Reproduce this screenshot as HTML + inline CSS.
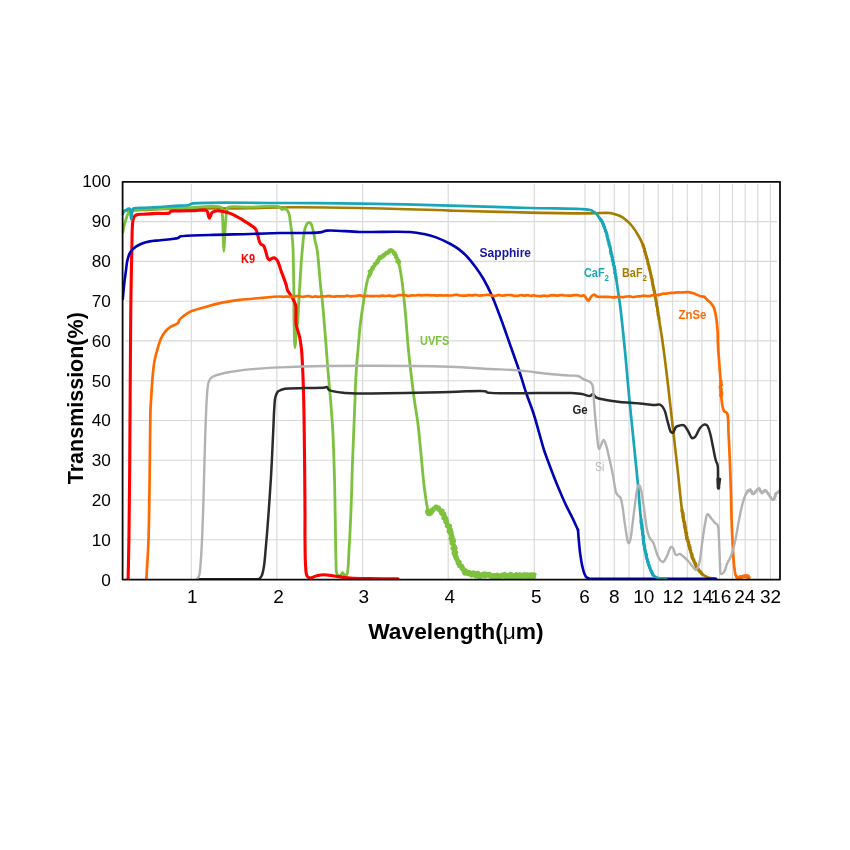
<!DOCTYPE html>
<html lang="en">
<head>
<meta charset="utf-8">
<title>Transmission of optical materials</title>
<style>
html,body{margin:0;padding:0;background:#ffffff;}
body{width:850px;height:850px;overflow:hidden;}
svg{display:block;}
</style>
</head>
<body>
<svg width="850" height="850" viewBox="0 0 850 850">
<rect width="850" height="850" fill="#ffffff"/>
<g stroke="#d8d8d8" stroke-width="1.1" fill="none">
<path d="M191.3 183.8 V579.6 M276.9 183.8 V579.6 M362.6 183.8 V579.6 M448.2 183.8 V579.6 M534.3 183.8 V579.6 M585 183.8 V579.6 M599.7 183.8 V579.6 M614.3 183.8 V579.6 M629 183.8 V579.6 M643.7 183.8 V579.6 M658.2 183.8 V579.6 M672.7 183.8 V579.6 M687.3 183.8 V579.6 M701.9 183.8 V579.6 M719.5 183.8 V579.6 M732.5 183.8 V579.6 M745.2 183.8 V579.6 M757.8 183.8 V579.6 M770.4 183.8 V579.6"/>
<path d="M125.6 221.6 H777 M125.6 261.4 H777 M125.6 301.2 H777 M125.6 340.9 H777 M125.6 380.7 H777 M125.6 420.5 H777 M125.6 460.3 H777 M125.6 500 H777 M125.6 539.8 H777"/>
</g>
<clipPath id="plotclip"><rect x="121.7" y="181.8" width="659.2" height="398.2"/></clipPath>
<g fill="none" stroke-linejoin="round" stroke-linecap="round" clip-path="url(#plotclip)">
<path stroke="#a67c00" stroke-width="2.6" d="M122.8 212C123.2 211.6 123.4 211.1 124 210.8C125.2 210.3 127.4 210.5 130 210.4C134.7 210.1 143 209.9 150 209.6C157.9 209.3 166 209 175 208.8C185.7 208.6 197.9 208.6 210 208.5C222.9 208.4 236.7 208.4 250 208.2C263.3 208 274.8 207.4 290 207.3C310.1 207.2 335.2 207.5 360 208C388.1 208.5 420.9 209.8 450 210.6C477.5 211.3 505.2 212.1 530 212.6C551.4 213 575.4 213.4 590 213.4C598.5 213.4 605.3 212.4 610 213C612.6 213.3 614.2 214 616 214.6C617.5 215.1 618.6 215.3 620 216C621.9 216.9 624.1 218.4 626 220C628.1 221.7 630.1 223.7 632 226C634.1 228.6 636.2 231.9 638 235C639.9 238.2 641.6 241.3 643 245C644.6 249.2 645.7 254.2 647 259C648.4 264.1 649.7 269.4 651 275C652.4 281.3 653.7 288 655 295C656.4 302.6 657.7 310.8 659 319C660.4 327.5 661.7 335.4 663 345C664.7 356.9 666.4 371.3 668 385C669.7 399.3 671.3 414.3 673 429C674.7 443.7 676.4 459 678 473C679.4 485.9 680.4 498.6 682 510C683.4 520 685.1 529.7 687 538C688.5 544.7 690.2 550.7 692 556C693.5 560.5 695.1 564.8 697 568C698.5 570.5 700.1 572.4 702 574C703.8 575.5 705.8 576.6 708 577.4C710.4 578.3 713.3 578.3 716 578.8"/>
<path stroke="#a67c00" stroke-width="2.8" d="M643.2 244.9 L642.9 246.1 L643.9 246.9 L643.7 248 L644.5 248.9 L644.6 249.9 L644.3 251.1 L645.2 251.9 L645.2 253 L645.6 254 L645.9 255 L646.1 256 L646.7 256.9 L646.5 258.1 L647.3 258.9 L647.5 259.9 L647.9 260.9 L647.9 262 L648.1 263 L647.9 264.1 L648.6 265 L649 265.9 L649.2 267 L648.9 268.1 L649.8 268.9 L649.7 270 L650.1 271 L650.1 272 L650.6 273 L650.6 274 L651 275 L651.1 276 L651.1 277.1 L651.5 278 L652.1 278.9 L652.3 279.9 L651.9 281.1 L652.4 282 L652.8 283 L652.5 284.1 L652.9 285 L653 286 L653.1 287.1 L653.8 288 L653.9 289 L653.7 290.1 L654.5 290.9 L654.2 292 L654.9 292.9 L654.7 294 L654.8 295 L654.8 296.1 L655.1 297 L655.5 298 L655.9 299 L656.1 300 L656 301 L656.2 302 L656.7 302.9 L656.2 304.1 L656.7 305 L656.7 306 L657.2 307 L657.4 308 L657.7 308.9 L657.6 310 L657.9 311 L657.9 312 L658.1 313 L657.9 314 L658 315.1 L658.8 316 L658.7 317 L659.1 318 L659 319"/>
<path stroke="#a67c00" stroke-width="3.2" d="M682 510 L682 511 L682.2 512 L682.9 512.9 L683.2 513.9 L683 515 L683.3 516 L682.9 517.1 L683.2 518 L683.5 519 L683.7 520 L683.8 521 L684.5 521.9 L684.4 523 L684.8 523.9 L684.3 525.1 L685.3 525.9 L684.7 527.1 L685.6 527.9 L685.2 529 L685.7 530 L685.8 531 L685.6 532.1 L686.6 532.9 L686.7 533.9 L686.1 535.1 L686.6 536 L687.2 536.9 L686.5 538.1 L686.8 539.1 L687.9 539.9 L687.9 541 L688.5 541.9 L688.6 542.9 L688.5 544 L689.3 544.9 L689 546.1 L689.9 546.9 L690.1 547.9 L689.8 549.1 L690.4 550 L690.7 551 L690.8 552 L691.2 553 L691.6 554 L692.2 554.9 L691.8 556.1 L692 557.1 L692.3 558 L693 558.8 L693.7 559.6 L694 560.6 L694.1 561.6 L694.5 562.5 L695.4 563.2 L695.7 564.2 L696 565.2 L696.2 566.2 L696.3 567.2 L697 568 L698.1 568.6 L698.2 569.9 L699.2 570.5 L699.8 571.4 L700.8 572.1 L701.3 573.1 L702 574"/>
<path stroke="#7dc13f" stroke-width="2.8" d="M122.8 232.3C123.3 230 123.6 227.6 124.2 225.3C124.8 222.9 125.6 220.4 126.3 218.2C127 216.2 127.6 214 128.4 212.6C129 211.5 129.5 210.6 130.5 210.1C131.6 209.5 132.9 209.8 135 209.6C140 209.2 151.3 208.9 160 208.6C169.5 208.3 179.9 207.9 190 207.7C200.3 207.5 217.5 204.3 221.3 207.5C223 209 222 211.1 222.3 214C222.9 219.8 223 233.1 223.3 240C223.5 244.6 223.7 251.4 223.9 251.4C224.1 251.4 224.4 244.2 224.6 240C224.9 234.7 225.2 227.3 225.6 222C225.9 217.9 226.2 213.6 226.8 211C227.2 209.4 227 208.3 228.2 207.4C231.1 205.4 242.2 207.3 250 207.2C259 207.1 275 205.1 279.3 206.9C280.8 207.5 280.9 209.2 281.8 209.4C282.7 209.6 283.7 208.4 284.6 208.5C285.6 208.6 286.8 209.6 287.5 210.5C288.3 211.6 288.8 213.1 289.2 214.7C289.8 216.7 289.9 219.4 290.3 221.8C290.6 224.1 291 226.2 291.3 228.8C291.7 232 292.1 235.9 292.4 239.4C292.7 242.9 293 246.5 293.1 250C293.2 253.4 293.2 255.6 293.3 260C293.5 268.2 293.8 284.6 293.9 295.3C294 304.3 293.8 311.5 294 320C294.2 329 294.5 347.8 295 347.8C295.4 347.8 295.9 335.1 296.5 330C296.9 326.2 297.6 323.7 297.9 320C298.3 315.5 298.3 310.2 298.6 305C298.9 299.5 299.3 293.7 299.6 288C300 282.3 300.4 276.1 300.7 271C301 266.9 301.1 263.6 301.4 260C301.7 256.6 302 253.6 302.3 250C302.7 245.7 303.1 239.9 303.7 235.9C304.1 232.9 304.4 230.3 305.1 228.1C305.7 226.3 306.4 224.4 307.2 223.5C307.7 222.9 308.4 222.5 309 222.5C309.6 222.5 310.3 222.9 310.8 223.5C311.6 224.4 312 226.3 312.5 228.1C313.2 230.3 313.9 233.6 314.3 235.9C314.6 237.7 314.6 239 315 240.8C315.5 243.2 316.5 246 317 249C317.6 252.4 317.8 255.5 318.3 260C319 267.2 320 280.9 320.8 288.2C321.3 292.8 321.7 295.2 322.2 299.5C322.8 305.3 323.4 313.1 324 320C324.6 327.2 325.2 334.1 325.8 341.8C326.5 350.6 327.1 360.1 327.9 370C328.8 381 330.1 393.8 331 405C331.8 415.4 332.5 424.3 333 435C333.6 447.4 334 461.7 334.4 475C334.8 488.3 334.9 501.3 335.2 515C335.5 529.6 335.5 549.3 336 560C336.3 566 335.6 571.6 337 574C337.7 575.2 339.1 576.2 340 576C341 575.8 341.8 572.6 342.6 572.6C343.4 572.6 344.2 575.9 345 576C345.7 576.1 346.4 575.2 347 574C348.6 570.5 348.4 559 349 550C349.8 538.4 350.4 523.7 351 510C351.6 495.4 351.9 480.4 352.4 465C353 448.8 353.8 430.7 354.4 415C355 400.9 355.3 387.4 356 375C356.6 364.3 357.7 353.7 358.4 345C359 338.2 359.3 333.3 360 327C360.8 320 361.9 312 363 305C364 298.7 365 292.2 366 287C366.8 283 367.5 279.6 368.4 276.6C369.2 274.1 369.9 271.8 371 270C371.9 268.6 372.9 268 374 266.5C375.7 264.3 377.9 260.2 380 258C381.6 256.3 383.3 255.3 385 254C386.8 252.6 388.9 249.8 390.7 250C392.4 250.2 394.2 253 395.5 255C396.9 257.2 397.8 259.8 398.7 263C400 267.4 400.9 273.7 401.7 279C402.5 284.3 403 289.4 403.6 295C404.3 301.3 404.9 307.7 405.6 315C406.4 324 407.1 335 408 345C408.9 355 410.1 365.6 411.2 375C412.2 383.5 413.1 390.8 414.2 399C415.4 407.5 417 416 418.1 425C419.3 434.6 420.1 445 421.1 455C422.1 465 423 476.3 424 485C424.8 491.8 425.7 498.2 426.5 503C427 506.2 427.5 508.9 428 511C428.3 512.4 428.5 514.4 429 514.5C429.4 514.6 429.9 513.3 430.5 512.5C431.2 511.5 431.9 509.9 433 509C434.1 508.1 435.8 506.8 437 507C438.3 507.2 439.4 508.7 440.5 510C441.8 511.6 442.8 513.8 444 516C445.3 518.5 446.9 521.1 448 524C449.3 527.3 450 531.2 451 535C452 539.1 453 544.1 454 548C454.8 551.3 455.6 554.2 456.5 557C457.3 559.5 458 562 459 564C459.9 565.7 460.8 567.2 462 568.5C463.2 569.8 464.7 570.8 466 572"/>
<path stroke="#7dc13f" stroke-width="3.5" d="M368.7 276.7 L369.2 276 L369.7 275.2 L370.3 274.5 L370.2 273.5 L370.9 272.8 L369.4 271.3 L370.6 270.8 L371.7 270.6 L371.8 269.5 L372.9 269.2 L372.2 267.3 L373.3 267.2 L373.5 266.2 L374.5 265.9 L375.1 265.3 L374.5 263.9 L375.3 263.5 L375.9 263 L377.5 263.1 L377.7 262.3 L377.1 260.8 L378.7 261 L378 259.5 L379.3 259.5 L378.9 258.2 L379.3 257.1 L381.1 258.1 L380.9 256.5 L381.5 256 L383.2 256.8 L383.6 256.1 L383.5 254.6 L385 255.3 L385 254.1 L385.9 253.8 L386.1 252.5 L387.7 253.3 L388.1 252.3 L389.2 252.3 L389.8 251.7 L389.7 250.1 L390.9 249.8 L391.8 250.1 L392.5 250.7 L393.2 251.2 L393.4 252.2 L393.5 253.3 L395.1 253 L394.6 254.6 L395.8 254.9 L396.2 255.6 L395.5 256.9 L396.5 257.4 L397.2 258 L397.1 259 L397 260 L398.6 260.2 L397.1 261.8 L399.4 261.8 L398.7 263"/>
<path stroke="#7dc13f" stroke-width="4.4" d="M427.2 511.2 L427.3 512.1 L428.5 512.7 L429.4 513.4 L427.8 513.6 L429.9 514.1 L429.9 513.1 L431.1 513 L430.7 511.6 L432.2 511.6 L431.4 510 L433.2 510.2 L433.3 509.6 L433.7 508.4 L434.7 508.3 L435.6 508.3 L435.8 506.6 L436.9 507.1 L437.1 508.3 L438.9 507.7 L438.5 509.5 L439.4 509.8 L439.6 510.5 L441.4 510.5 L442.4 510.9 L441 512.7 L441.5 513.5 L442.8 513.7 L444.2 513.9 L444.3 514.8 L443.6 516.2 L444.9 516.4 L443.5 518.1 L444.9 518.3 L446.3 518.5 L445.4 519.8 L446.6 520.2 L445.4 521.7 L445.8 522.4 L447.2 522.6 L447.2 523.5 L447.4 524.2 L447.3 525 L447 525.9 L450 526 L449.3 527 L448.8 528 L449.9 528.6 L449.2 529.6 L450.9 530 L448.8 531.4 L450.1 531.9 L451.5 532.3 L450.1 533.6 L451.3 534.1 L451.9 534.8 L451.2 535.8 L452.4 536.4 L452.4 537.2 L450.7 538.5 L451.4 539.2 L453.5 539.5 L451.5 540.9 L453.9 541.2 L453.2 542.2 L451.7 543.4 L452.7 544 L453.8 544.6 L453.8 545.5 L453.9 546.3 L454.9 546.9 L452.6 548.4 L455.5 548.5 L454.7 549.6 L454 550.7 L455.2 551.2 L453.7 552.5 L456.1 552.7 L454.2 554.1 L454.7 554.9 L455.6 555.5 L455.1 556.5 L456.6 556.9 L455.8 558.1 L456.2 558.9 L457.3 559.4 L457.7 560.1 L457.3 561.1 L458.4 561.6 L459.6 562 L458 563.5 L459.6 563.6 L459.5 564.7 L459.3 566 L461.3 565.7 L462.2 566.2 L462.4 567.1 L461.8 568.7 L462.9 568.8 L463.8 569.1 L464.1 570.1 L463.8 571.8 L465.8 570.9 L466 572"/>
<path stroke="#7dc13f" stroke-width="5.6" stroke-linecap="butt" d="M464.1 570.9 L464.7 571.6 L465.1 572.8 L466.4 572.2 L467.2 572.8 L467.9 573.4 L469.2 572.6 L470 573.7 L470.9 574.2 L471.8 574.9 L473.2 573.3 L474.1 574.1 L475.1 573.6 L475.9 575.6 L476.9 575.4 L478.1 573.8 L478.9 576.3 L479.9 576.4 L481 575.7 L482 575.7 L483 574.6 L484.1 574.2 L485 575.6 L486.1 574.5 L487 574.8 L488 575 L489.1 574.5 L490 575.7 L490.9 575.7 L491.8 576.7 L492.7 575.9 L493.6 576.2 L494.5 575.8 L495.4 576.3 L496.3 575.7 L497.2 575.3 L498.1 577.2 L499 577.2 L499.9 576.8 L500.8 576.4 L501.7 575.4 L502.6 575.2 L503.5 575.4 L504.4 574.8 L505.3 576.6 L506.2 575.7 L507.1 576.9 L508 575.7 L508.9 577.2 L509.8 576.9 L510.8 574.7 L511.7 575.2 L512.5 577.1 L513.5 575.9 L514.3 577.3 L515.3 575.8 L516.2 574.9 L517.1 576.4 L518 576.8 L518.9 575.5 L519.8 575 L520.7 575.6 L521.6 577.3 L522.5 576.8 L523.4 575.1 L524.3 575.4 L525.2 575.1 L526.1 575 L527 576.9 L527.9 575.3 L528.8 576.3 L529.7 576 L530.6 575.3 L531.5 576.8 L532.4 575.2 L533.3 576.6 L534.2 575.2 L535.1 576 L536 576.2"/>
<path stroke="#fe0000" stroke-width="3.1" d="M128.1 579.4C128.4 566.3 128.7 551.6 128.9 540C129 530.7 129.1 524 129.2 515C129.3 504.3 129.5 495.5 129.6 480C129.9 449.6 130.2 377.9 130.5 345C130.6 326 130.7 316.1 130.9 300C131.2 281.4 131.7 252.4 132 240C132.1 234.5 132.1 231.4 132.3 228C132.4 225.5 132.5 223.5 132.8 221.5C133.1 219.8 133.3 218.1 134 217C134.5 216.1 135.2 215.5 136.2 215C137.8 214.3 140.3 214.4 143 214.2C146.8 213.9 152.5 213.6 157 213.4C161.2 213.2 167.3 214 169.3 213C170.2 212.6 170 211.7 170.8 211.3C172.5 210.5 176.6 211.1 180 211C184.4 210.9 190.3 210.7 195 210.6C199.1 210.5 204.7 209.5 206.5 210.5C207.3 211 207.4 211.7 207.7 212.5C208.1 213.6 208.2 215.5 208.6 216.5C208.9 217.2 209.2 218.2 209.5 218.2C209.8 218.2 210.1 216.8 210.5 216C211 215 211.3 213.4 212 212.6C212.6 211.9 213.6 211.6 214.5 211.3C215.5 211 216.5 210.8 217.6 210.8C218.9 210.8 220.5 211 222 211.2C223.6 211.4 225.2 211.7 226.8 212.2C228.5 212.7 230.3 213.4 232 214.2C233.8 215 235.6 215.9 237.3 216.8C239.1 217.7 240.8 218.8 242.5 219.8C244.3 220.9 246.4 222.2 247.9 223.2C248.9 223.9 249.6 224.4 250.5 225C251.6 225.8 253.1 226.5 254.1 227.5C255.1 228.4 255.9 229.4 256.5 230.6C257.2 232 257.4 233.9 257.9 235.6C258.4 237.4 258.7 239.7 259.3 241.2C259.7 242.4 260.1 243.3 260.8 244.1C261.5 244.9 262.9 245 263.6 245.8C264.3 246.6 264.6 247.8 265 249C265.5 250.4 265.9 252.3 266.4 253.9C266.9 255.4 267.1 257.2 267.8 258.2C268.3 259 269 259.8 269.6 259.9C270.3 260 270.9 258.8 271.7 258.5C272.5 258.1 273.4 257.7 274.2 257.8C275 258 275.9 258.8 276.6 259.6C277.5 260.6 278.1 262.2 278.8 263.8C279.6 265.7 280.1 268 280.9 270.2C281.7 272.7 282.8 275.4 283.7 277.9C284.6 280.3 285.5 282.8 286.2 285C286.8 286.9 286.8 288.6 287.6 290.3C288.4 292.2 290.1 294.1 291.2 296C292.3 297.9 293.5 299.8 294.3 301.6C295 303.1 295.5 304.2 295.8 305.9C296.2 308.3 295.9 312 296 315C296 318 295.6 320.8 296.1 324C296.6 327.9 298.7 332.6 299.6 336.8C300.5 340.8 300.9 344.5 301.4 348.8C301.9 353.8 302.2 358.8 302.5 365C302.9 373.5 303.3 383.7 303.6 395C304 409.5 304.2 426.9 304.4 445C304.7 466.4 304.9 497.5 305 515C305 525.4 304.9 531.6 305 540C305.1 548.6 305.1 559.4 305.6 566C305.9 570.1 305.8 574.1 307 576C307.7 577.2 308.8 577.8 310 578C311.6 578.2 313.8 576.5 316 576C318.5 575.4 321.2 574.8 324 574.8C327.1 574.8 330.3 575.5 334 576C338.7 576.6 344.4 577.6 350 578C356.3 578.5 362.8 578.5 370 578.6C378.5 578.8 388.7 578.7 398 578.8"/>
<path stroke="#0000b4" stroke-width="2.6" d="M122.8 299C123.3 293.4 123.8 287.2 124.4 282.3C124.8 278.4 125.3 275.3 125.8 271.8C126.3 268.3 126.5 264.4 127.2 261.2C127.8 258.6 128.4 256.1 129.3 254.1C130.1 252.4 131 251.2 132.1 249.9C133.3 248.6 134.7 247.5 136.3 246.4C138.1 245.2 140.5 244 142.7 243.2C145 242.4 147.2 241.9 149.8 241.4C152.9 240.8 156.3 240.7 160.3 240.2C165.4 239.6 175.1 239.1 178 238C179.1 237.6 178.8 237 180 236.6C184 235.2 199.3 235.4 210 235C222.4 234.5 237.6 234.4 250 234C260.7 233.7 269.3 233.3 280 233C292.4 232.7 312.2 233.5 320 232.4C323.3 232 323.8 230.9 327 230.6C333.9 229.9 347.9 231.7 360 232C374.9 232.3 398.5 231.2 410 232C416.1 232.4 419.5 233.1 424 234C428.2 234.9 431.9 235.9 436 237.4C440.7 239.1 446.4 241.8 450.5 244C453.8 245.8 456.3 247.3 459 249.4C461.9 251.6 464.7 254.2 467.4 257C470.2 260 472.9 263.5 475.5 267C478.3 270.8 480.9 274.6 483.5 279C486.3 283.9 489 289.3 491.6 295C494.4 301.2 497.1 308.7 499.5 315C501.6 320.6 503.5 325.8 505.3 331C507 335.8 508.3 339.7 510.2 345C512.6 351.9 515.9 361 518.6 369C521.3 377 523.6 385.2 526.2 393C528.7 400.5 531.4 406.8 534 415C537.3 425.3 541.4 441.9 544 450C545.4 454.4 546.2 456.2 547.6 460C549.4 464.9 551.8 471.4 554 476.9C556.1 482.2 558.2 487.4 560.4 492.5C562.5 497.3 564.6 502.2 566.7 506.6C568.6 510.6 570.5 514.1 572.4 517.9C574.3 521.8 576.1 525.9 578 529.9"/>
<path stroke="#0000b4" stroke-width="2.6" d="M578 529.9C578.2 533 578.4 535.7 578.7 539.1C579.1 543.3 579.5 548.6 580.1 553.2C580.7 557.6 581.4 562.2 582.2 565.9C582.9 568.8 583.5 571.7 584.4 573.7C585 575.1 585.6 576.4 586.5 577.2C587.3 577.9 588.2 578.2 589.3 578.5C590.6 578.8 592.3 578.7 594 578.8C595.9 578.9 597.1 578.8 600 578.8C607.4 578.8 626.7 578.9 640 578.9C653.3 578.9 667 578.9 680 578.9C692.3 578.9 704 578.9 716 578.9"/>
<path stroke="#17a7b8" stroke-width="2.7" d="M122.8 214C123.1 213.3 123.3 212.6 123.8 212C124.3 211.4 124.9 211 125.6 210.5C126.3 209.9 127.2 209.1 128 208.8C128.6 208.6 129.2 208.3 129.6 208.6C130.2 209 130.2 210.6 130.4 212C130.7 214 130.9 219.3 131.2 219.3C131.5 219.3 131.8 214 132.2 212C132.5 210.6 132.6 209.1 133.3 208.5C134 207.9 135 208.1 136.2 208C138 207.8 140.7 207.9 143 207.8C145.3 207.7 147.5 207.6 150 207.5C153 207.4 156.3 207.2 160 207C164.5 206.7 170.1 206.2 175 205.9C179.7 205.6 186.1 205.7 189 205C190.4 204.6 190.2 204 192 203.6C201.1 201.6 251.4 203 280 203C307.3 203 332.5 203.2 360 203.6C389.1 204 420.9 204.8 450 205.6C477.5 206.3 506.5 207.4 530 208C548.6 208.5 570.5 208.5 580 209C583.8 209.2 585.8 209.2 588 209.6C589.6 209.9 590.7 210 592 210.6C593.4 211.3 594.8 212.3 596 213.5C597.3 214.8 598.4 216.5 599.5 218C600.5 219.5 601.5 220.7 602.4 222.4C603.4 224.3 604.2 226.7 605 229C605.8 231.4 606.5 233.6 607.3 236.5C608.3 240.3 609.5 245.4 610.5 250C611.6 254.8 612.6 259.8 613.6 264.7C614.5 269.5 615.4 274.3 616.2 279C617 283.7 617.6 288.4 618.3 293C619 297.4 619.5 300.5 620.2 306C621.4 315.5 623 331.2 624.4 345C626 360.6 627.4 378.3 629 395C630.6 411.7 632.4 429.3 634 445C635.4 459.1 636.8 472.1 638 485C639.1 497.1 639.8 508.8 641 520C642.1 530.4 643.4 541.6 645 550C646.2 556.2 647.4 561.5 649 566C650.2 569.5 651.2 573 653 575C654.4 576.6 656.1 577.4 658 578C660.3 578.8 663.3 578.5 666 578.8"/>
<path stroke="#17a7b8" stroke-width="3.0" d="M599.5 218 L600.2 218.8 L601 219.6 L600.9 220.8 L602.2 221.2 L602.4 222.4 L602.4 223.5 L603.5 224.1 L603.5 225.2 L603.8 226.2 L604.7 226.9 L604.7 228 L604.8 229.1 L605.4 230.1 L605.4 231.2 L606.3 232.1 L606.6 233.2 L607 234.2 L607 235.4 L606.9 236.6 L607.5 237.6 L607.5 238.6 L608.2 239.6 L608 240.7 L608.9 241.6 L609 242.7 L608.9 243.8 L609 244.9 L609.6 245.8 L610.2 246.8 L610.2 247.9 L610.5 248.9 L610.7 250 L610.4 251 L611.2 251.9 L610.7 253 L611 254 L612 254.8 L611.9 255.9 L612 256.9 L612.6 257.7 L612.4 258.8 L612.2 259.9 L613.2 260.7 L612.9 261.8 L613.6 262.7 L613.3 263.7 L613.2 264.8 L614.1 265.7 L614.5 266.7 L614.6 267.7 L614.3 268.8 L615 269.7 L615.1 270.8 L614.9 271.8 L614.7 272.9 L615.4 273.9 L615.6 274.9 L615.5 276 L616.2 276.9 L615.9 278 L616.2 279"/>
<path stroke="#17a7b8" stroke-width="3.1" d="M641.2 520 L641 521 L641.1 522 L641.1 523 L641.8 524 L641.9 525 L642.1 526 L642.2 527 L641.9 528 L642.5 529 L642.3 530 L642.7 531 L642.8 532 L642.8 533 L642.6 534 L642.9 535 L643.6 535.9 L643.5 537 L643.7 538 L643.2 539 L643.4 540 L643.5 541 L643.6 542 L643.8 543 L643.8 544.1 L644.1 545 L644.7 546 L644.3 547 L644.7 548 L644.6 549 L644.9 550 L645.3 551 L645.6 552 L645.8 553 L646.2 554 L646.6 554.9 L646.2 556.1 L646.5 557.1 L646.6 558.1 L647.1 559 L647.5 560 L647.5 561.1 L648.3 561.9 L648.1 563 L648.5 564 L649 564.9 L649.2 565.9 L649.4 567 L650.1 567.9 L650.4 569 L650.7 570 L651.3 571 L652 571.9 L652.1 573 L652.8 573.9 L653 575"/>
<path stroke="#2b2b2b" stroke-width="2.5" d="M198 579.2C203.7 579.2 209.1 579.2 215 579.2C221.4 579.2 228.8 579.2 235 579.2C240.4 579.2 246.1 579.2 250 579.2C252.5 579.2 254.3 579.3 256 579.2C257.2 579.1 258.1 579.3 259 578.8C260 578.3 260.9 577.3 261.6 576C262.8 573.8 263.4 569.7 264 566C264.8 561.3 265 556.3 265.6 550C266.4 541.2 267.4 529.1 268.2 518C269.1 505.9 270.2 490.3 270.8 480C271.2 472.9 271.4 469.1 271.8 462C272.3 451.9 273 435 273.5 425C273.8 418.2 273.9 413 274.3 408C274.6 403.9 274.6 400 275.4 397C276 394.8 277 392.4 278 391.4C278.6 390.8 279.2 390.7 280 390.4C281.1 389.9 281.9 389.4 284 389C290.5 387.8 320.1 388.4 325 387.6C326.1 387.4 326.4 386.8 327 387C327.8 387.3 327.7 389.2 329 390C331.8 391.8 340.6 392.4 346 393C350.9 393.5 353.3 393.4 360 393.4C377 393.5 426.8 392.4 450 392C464.7 391.8 482.6 390 486 391.4C486.7 391.7 486.3 392.1 487 392.4C492.5 394.7 554.8 392.3 570 393C575.8 393.3 578.4 393.4 582 394C585 394.5 588 396.3 590 396C591.3 395.8 592.1 393.9 593 394C594.1 394.1 594.5 396.5 596 397.4C598.2 398.8 602.4 399.3 606 400C610.3 400.9 614.9 401.5 620 402C626.1 402.6 633.9 402.8 640 403.4C645.1 403.9 650.3 404.9 654 405C656.4 405.1 658.3 403.9 660 404.6C661.7 405.3 662.9 406.9 664 409C665.8 412.2 666.7 418.9 668 423C669 426.3 669.7 430.8 671 432C671.6 432.6 672.4 432.9 673 432.6C674.1 432.1 674.7 428.2 676 427C677.1 426 678.6 425.7 680 425.4C681.3 425.1 682.8 424.8 684 425.4C685.6 426.2 686.7 429 688 431C689.4 433.2 690.5 437.4 692 438C692.9 438.4 694 437.8 695 437C696.8 435.5 698.2 430.2 700 428C701.3 426.4 702.7 424.9 704 424.6C705 424.4 706.1 424.6 707 425.4C708.4 426.6 709.1 430 710 433C711.2 436.9 712 442.3 713 447C714 451.7 715 457.8 716 461C716.5 462.8 717.2 463.2 717.6 465C718.3 468.2 717.8 474.8 718 479C718.1 482.3 718.1 488 718.4 488C718.7 488 719.5 482 720 479"/>
<path stroke="#2b2b2b" stroke-width="3.6" d="M718.2 479 L718.5 488"/>
<path stroke="#ff6a00" stroke-width="2.7" d="M146.4 578.6C147.1 565.7 148 554.3 148.5 540C149.1 522.2 149.3 497.3 149.6 480C149.8 466.8 149.9 456.7 150 445C150.2 433.3 150.2 419.1 150.5 410C150.7 404.2 151 401.1 151.3 395.9C151.7 389.6 152.2 381 152.8 374.7C153.3 369.5 153.8 365 154.6 360.6C155.3 356.6 156.3 353 157.4 349.3C158.4 345.7 159.5 341.8 160.9 338.7C162.1 336 163.5 333.6 165.2 331.6C166.8 329.7 168.8 328 170.8 326.7C172.8 325.4 175.9 324.5 177.2 323.6C177.9 323.1 178.3 322.7 178.6 322.2C178.9 321.7 178.6 321.1 179 320.4C179.7 319.2 181.8 317.5 183.5 316.1C185.5 314.5 187.7 312.8 190.6 311.5C194.4 309.7 200 308.6 204.7 307.2C209.4 305.9 213.6 304.5 218.8 303.4C225.1 302 233 300.8 240 299.9C246.7 299 253.3 298.6 260 298C266.7 297.4 276.2 296.5 280 296.5C281.5 296.5 282.1 296.8 283.2 296.8C284.3 296.8 285.3 296.6 286.4 296.6C287.5 296.6 288.6 296.8 289.6 296.8C290.7 296.8 291.8 296.9 292.8 296.8C293.9 296.7 295 296.3 296 296.2C297.1 296 298.2 295.9 299.2 296.1C300.3 296.2 301.4 296.9 302.5 296.9C303.5 297 304.6 296.4 305.7 296.3C306.7 296.1 307.8 296.1 308.9 296.2C309.9 296.3 311 297 312.1 297C313.1 297 314.2 296.4 315.3 296.4C316.3 296.4 317.4 296.8 318.5 296.8C319.6 296.8 320.6 296.4 321.7 296.3C322.8 296.3 323.8 296.5 324.9 296.5C326 296.4 327 295.9 328.1 295.9C329.2 295.9 330.2 296.3 331.3 296.4C332.4 296.5 333.5 296.7 334.5 296.6C335.6 296.6 336.7 296.2 337.7 296.2C338.8 296.2 339.9 296.4 340.9 296.4C342 296.4 343.1 296.4 344.2 296.3C345.2 296.2 346.3 295.6 347.4 295.6C348.4 295.6 349.5 296.3 350.6 296.3C351.6 296.4 352.7 296.2 353.8 296.1C354.8 296 355.9 295.9 357 295.8C358 295.7 359.1 295.3 360.2 295.4C361.3 295.5 362.3 296.3 363.4 296.3C364.5 296.4 365.5 295.9 366.6 295.9C367.7 295.8 368.7 296 369.8 296.1C370.9 296.2 372 296.2 373 296.2C374.1 296.2 375.2 296 376.2 296C377.3 296 378.4 296.3 379.4 296.2C380.5 296.1 381.6 295.6 382.6 295.6C383.7 295.6 384.8 296 385.9 296C386.9 296 388 295.6 389.1 295.6C390.1 295.6 391.2 296 392.3 296.1C393.3 296.2 394.4 296.2 395.5 296C396.6 295.8 397.6 295.2 398.7 295.1C399.7 295 400.8 295.1 401.9 295.1C403 295.1 404 295 405.1 295.2C406.2 295.3 407.2 295.9 408.3 296C409.4 296 410.4 295.4 411.5 295.3C412.6 295.3 413.7 295.5 414.7 295.5C415.8 295.5 416.9 295.2 417.9 295.1C419 295.1 420.1 295.3 421.1 295.3C422.2 295.3 423.3 295.2 424.3 295.1C425.4 295.1 426.5 295 427.5 295.1C428.6 295.1 429.7 295.3 430.8 295.3C431.8 295.3 432.9 295.2 434 295.3C435 295.3 436.1 295.6 437.2 295.6C438.2 295.6 439.3 295.3 440.4 295.3C441.4 295.3 442.5 295.5 443.6 295.5C444.7 295.6 445.7 295.4 446.8 295.4C447.9 295.4 448.9 295.6 450 295.5C451.1 295.5 452.2 295.4 453.2 295.2C454.3 295.1 455.4 294.6 456.5 294.7C457.5 294.7 458.6 295.3 459.7 295.5C460.8 295.6 461.8 295.6 462.9 295.6C464 295.6 465.1 295.6 466.2 295.6C467.2 295.5 468.3 295.2 469.4 295.2C470.5 295.2 471.5 295.5 472.6 295.4C473.7 295.3 474.8 294.8 475.8 294.9C476.9 294.9 478 295.5 479.1 295.6C480.1 295.6 481.2 295.4 482.3 295.3C483.4 295.2 484.5 295.1 485.5 295C486.6 294.9 487.7 294.7 488.8 294.8C489.9 294.9 490.9 295.5 492 295.7C493.1 295.9 494.2 296 495.2 295.9C496.3 295.7 497.4 294.9 498.5 294.9C499.5 294.9 500.6 295.6 501.7 295.7C502.8 295.8 503.8 295.4 504.9 295.3C506 295.2 507.1 295 508.2 295C509.2 295 510.3 295.1 511.4 295.2C512.5 295.3 513.5 295.6 514.6 295.8C515.7 295.9 516.8 296 517.8 295.9C518.9 295.8 520 295 521.1 295C522.2 295 523.2 295.6 524.3 295.7C525.4 295.7 526.5 295 527.5 295.1C528.6 295.1 529.7 295.8 530.8 295.8C531.8 295.9 532.9 295.4 534 295.4C535.1 295.4 536.2 295.9 537.3 296C538.4 296.1 539.6 296.2 540.7 296.1C541.8 296.1 542.9 295.6 544 295.6C545.1 295.6 546.2 296.2 547.3 296.1C548.4 296.1 549.5 295.6 550.7 295.4C551.8 295.2 552.9 295.1 554 295.1C555.1 295.2 556.2 295.7 557.3 295.7C558.4 295.7 559.6 295.2 560.7 295.1C561.8 295 562.9 295.2 564 295.3C565.1 295.3 566.2 295.4 567.3 295.5C568.4 295.6 569.6 295.8 570.7 295.7C571.8 295.7 572.9 295.3 574 295.2C575.1 295.1 576.2 295 577.3 295.1C578.5 295.2 579.5 295.9 580.7 296C581.8 296.1 583.3 295.1 584.1 295.4C584.8 295.7 585 296.5 585.6 297.2C586.3 298.2 587.4 300.9 588.3 300.9C589.2 300.8 589.9 298 590.9 296.9C591.8 295.9 593 294.6 594 294.6C595 294.5 595.9 296.3 597 296.6C598 297 599.2 296.8 600.3 296.8C601.4 296.8 602.5 296.8 603.6 296.8C604.7 296.8 605.8 296.8 606.9 296.8C608 296.9 609 296.9 610.1 297C611.2 297 612.3 297.4 613.4 297.4C614.5 297.4 615.6 297 616.7 297C617.8 296.9 618.9 296.9 620 296.9C621.1 297 622.2 297.2 623.3 297.1C624.5 297.1 625.5 296.6 626.7 296.5C627.8 296.4 628.9 296.4 630 296.4C631.1 296.5 632.2 297.1 633.4 297.1C634.5 297.1 635.6 296.6 636.7 296.5C637.8 296.4 638.9 296.5 640 296.4C641.1 296.3 642.2 295.7 643.3 295.7C644.4 295.6 645.5 296 646.7 296C647.8 296.1 648.9 296.3 650 296.1C651.1 295.9 652.1 295.1 653.3 295C654.4 294.8 655.6 295.2 656.7 295.1C657.8 295.1 658.9 294.9 660 294.6C661.1 294.4 662.2 293.7 663.3 293.5C664.4 293.4 665.6 293.7 666.7 293.6C667.8 293.5 668.9 293.1 670 293C671.1 292.8 672.3 293.1 673.5 292.9C674.7 292.8 675.8 292.4 677 292.3C678.2 292.3 679.3 292.5 680.5 292.5C681.7 292.5 682.8 292.3 684 292.3C685.3 292.2 686.7 292 688.1 292.1C689.4 292.2 690.8 292.5 692.1 292.9C693.4 293.2 694.7 293.7 695.9 294.2C697.2 294.7 698.5 295.5 699.8 296C701.2 296.4 702.9 296.2 704.2 296.8C705.3 297.4 706.1 298.6 707 299.5C708 300.3 709 301.1 709.9 302.1C710.8 302.9 711.5 303.9 712.2 304.9C712.8 305.9 713.4 306.6 714 308C715 310.5 715.8 315.2 716.4 319C717 322.9 717.3 326.8 717.6 331C717.9 335.5 717.7 339.9 718 345C718.3 351.1 718.9 358.7 719.4 365C719.8 370.6 720.3 375.8 720.6 381C720.8 385.8 720.5 390.2 721 395C721.6 400.2 722.2 408.3 724 411C724.8 412.3 726.2 411.7 727 413C728.9 416.3 728.1 427.1 728.6 435C729.2 444.2 729.6 455 730 465C730.4 475 730.7 485.5 731 495C731.2 503.7 731.3 511.3 731.6 520C731.9 529.5 732.5 541.3 733 550C733.4 556.8 733.7 563.2 734.4 568C734.8 571.2 735.1 574.3 736 576C736.5 577 737 577.7 738 578C739.6 578.4 743.2 576 745 576C746.2 576 747.3 576.4 748 577C748.6 577.5 748.7 578.3 749 579"/>
<path stroke="#ff6a00" stroke-width="3.2" d="M720.9 381 L721.2 381.9 L720.8 382.9 L721.2 383.8 L721.4 384.7 L720.9 385.7 L720.1 386.7 L720.3 387.6 L720.4 388.5 L721.3 389.4 L720.9 390.4 L721.3 391.3 L721.5 392.2 L721.7 393.2 L721.6 394.1 L720.5 395.1 L721.2 396"/>
<path stroke="#ff6a00" stroke-width="3.4" d="M736.9 577 L737.8 577.8 L738.6 577.6 L739.5 577.9 L740.1 576.8 L740.9 576.6 L741.9 577.2 L742.7 576.8 L743.3 576.1 L744.3 576.5 L745 575.8 L745.9 576.6 L747.1 575.8 L748.4 576.3 L748 577.7 L749 578"/>
<path stroke="#b2b2b2" stroke-width="2.4" d="M197 579C197.7 578 198.5 577.4 199 576C199.9 573.7 200 570.1 200.4 566C201.1 559.4 201.6 548.6 202 540C202.4 531.6 202.7 524 203 515C203.4 504.3 203.7 489.2 204 480C204.2 474 204.2 471.2 204.4 465C204.7 454.9 205.1 437.4 205.6 425C206 414.3 206.4 402.7 207 395C207.4 390.1 207.5 386.1 208.4 383C209 380.9 209.7 379.3 211 378C212.3 376.7 213.9 376.2 216 375.4C219.4 374.1 224.9 372.9 230 372C236 370.9 242.6 370.1 250 369.4C259 368.5 268.9 367.9 280 367.4C293.7 366.7 306.9 366.2 326 366C357.3 365.6 420.1 365.9 450 366.8C467 367.3 477.9 368.4 490 369C500.2 369.5 508.4 369.6 518 370.4C528.3 371.2 540.6 373.1 550 374C557.4 374.7 564.8 375.3 570 375.6C573.3 375.8 575.6 375.3 578 376C580.2 376.6 582 378.4 584 379.4C586 380.4 588.5 380.9 590 382C591.1 382.9 591.8 383.5 592.4 385C593.5 387.6 593.2 392.6 593.6 397C594.1 402.4 594.5 408.8 595 415C595.6 421.5 596.3 428.9 597 435C597.6 440.1 598 448.8 599 449C599.6 449.1 600.3 446.4 601 445C601.8 443.4 602.8 440 603.6 440C604.4 440 605.3 442.9 606 445C607.1 448.1 608 452.7 609 457C610.2 461.9 611.8 469.5 612.5 473C612.9 474.7 613 475.2 613.3 476.9C614 480.4 614.9 489.4 616.1 492.5C616.7 494 617.3 494.6 618 495.5C618.7 496.3 619.7 496.5 620.4 497.6C621.5 499.5 621.9 503.2 622.5 506.6C623.3 511.1 623.9 517.1 624.6 522.1C625.3 526.9 626.1 532.6 626.7 536.2C627.1 538.4 627.3 540.2 627.8 541.5C628.1 542.3 628.5 543.3 628.8 543.3C629.1 543.3 629.5 542.3 629.8 541.5C630.3 540.3 630.5 538.9 630.9 536.9C631.6 532.9 632.4 525.1 633.1 519.3C633.8 513.6 634.5 507.8 635.2 502.4C635.9 497.5 636.6 491.2 637.3 488.5C637.6 487.3 637.8 486.6 638.2 486C638.4 485.6 638.7 485.2 639 485.2C639.3 485.2 639.6 485.6 639.8 486C640.2 486.6 640.5 487.3 640.8 488.5C641.5 491 642.2 496.5 642.9 500.9C643.7 505.8 644.4 511.4 645.1 516.5C645.8 521.3 646.2 526.6 647.2 530.6C648 533.6 648.8 536.4 650 538.4C650.9 539.9 652.1 540.3 653 542C654.5 544.7 655.6 550.7 657 554C658 556.4 658.8 558.6 660 560C660.9 561 662 562.2 663 562C664.4 561.7 665.8 558.3 667 556C668.5 553.4 669.6 547.5 671 547C671.7 546.8 672.4 547.3 673 548C674.1 549.2 674.5 554.3 676 555C677.1 555.5 678.7 553.7 680 554C681.4 554.3 682.6 555.8 684 557C685.6 558.4 687.5 560.3 689 562C690.5 563.6 691.7 565.6 693 567C694 568.2 695.1 570.1 696 570C697.1 569.8 698.2 566.7 699 564C700.5 559.4 701 550.7 702 544C703 537.3 703.9 529.5 705 524C705.8 520.1 706.3 514.3 707.6 514C708.5 513.8 709.8 516.6 711 518C712.3 519.6 713.7 521.8 715 523C715.9 523.9 716.9 523.8 717.6 525C719 527.6 718.6 534.4 719 540C719.5 547.1 719.6 557.7 720 564C720.3 568.1 719.8 573.4 721 574C721.7 574.3 723.1 573.1 724 572C725.3 570.3 725.9 566.6 727 564C728.2 561.3 729.8 559.1 731 556C732.5 552 733.8 547.2 735 542C736.5 535.5 737.6 527 739 520C740.3 513.7 741.4 507.1 743 502C744.2 498.1 745.5 494.1 747 492C747.9 490.8 749.1 489.5 750 489.6C751.1 489.8 751.7 493.9 753 494C754.6 494.2 757.4 488.2 759 488.4C760.3 488.6 760.9 492.9 762 493C762.9 493.1 764 489.9 765 490C766.3 490.1 767.7 493.3 769 495C770.3 496.7 771.8 500.1 773 500C774.2 499.9 774.9 495.6 776 494C776.9 492.7 778 492 779 491"/>
<path stroke="#b2b2b2" stroke-width="2.3" d="M747.5 492.6 L747.5 490.6 L749.2 490.7 L750.5 489.3 L750.1 491.1 L752.1 491.4 L751.7 493.2 L753.2 494.2 L754.2 493.6 L755.3 493 L755.3 491.3 L756.3 490.6 L757.5 490.2 L757.9 488.9 L759.3 488.2 L760.1 489.3 L760 491 L760.7 492.2 L762.3 493.3 L762.7 491.7 L764.5 491.5 L765 490 L766.1 490.7 L766.7 492 L767.5 492.9 L768.7 493.6 L768.9 495.1 L770 495.9 L770.5 497.1 L770.9 498.4 L772 499.1 L772.9 499.9 L774 499.3 L774.7 498.4 L774.5 497 L775.6 496.3 L774.8 494.7 L775.6 493.6 L776.6 492.6 L778.5 492.5 L779 491"/>
</g>
<rect x="122.6" y="181.8" width="657.4" height="397.8" fill="none" stroke="#0a0a0a" stroke-width="1.8" stroke-linejoin="round"/>
<g font-family="'Liberation Sans', Arial, sans-serif" font-size="17.2px" fill="#000000">
<g text-anchor="end">
<text x="110.9" y="585.6">0</text>
<text x="110.9" y="545.8">10</text>
<text x="110.9" y="505.9">20</text>
<text x="110.9" y="466.1">30</text>
<text x="110.9" y="426.3">40</text>
<text x="110.9" y="386.5">50</text>
<text x="110.9" y="346.7">60</text>
<text x="110.9" y="306.8">70</text>
<text x="110.9" y="267">80</text>
<text x="110.9" y="227.2">90</text>
<text x="110.9" y="187.4">100</text>
</g>
<g text-anchor="middle" font-size="19px">
<text x="192.3" y="603.3">1</text>
<text x="278.5" y="603.3">2</text>
<text x="363.9" y="603.3">3</text>
<text x="449.8" y="603.3">4</text>
<text x="536.2" y="603.3">5</text>
<text x="584.6" y="603.3">6</text>
<text x="614.2" y="603.3">8</text>
<text x="643.7" y="603.3">10</text>
<text x="673" y="603.3">12</text>
<text x="702.5" y="603.3">14</text>
<text x="720.7" y="603.3">16</text>
<text x="744.8" y="603.3">24</text>
<text x="770.6" y="603.3">32</text>
</g></g>
<g font-family="'Liberation Sans', Arial, sans-serif" font-weight="bold" fill="#000000">
<text x="368.2" y="638.8" font-size="22px" textLength="175.5" lengthAdjust="spacingAndGlyphs">Wavelength(<tspan font-weight="normal">μ</tspan>m)</text>
<text transform="translate(83.3 484.2) rotate(-90)" font-size="22px" textLength="172" lengthAdjust="spacingAndGlyphs">Transmission(%)</text>
</g>
<g font-family="'Liberation Sans', Arial, sans-serif" font-weight="bold" font-size="13px">
<text x="241" y="263.4" fill="#fe0000" textLength="14" lengthAdjust="spacingAndGlyphs">K9</text>
<text x="479.6" y="257" fill="#1515a5" textLength="51.4" lengthAdjust="spacingAndGlyphs">Sapphire</text>
<text x="584" y="277" fill="#17a7b8" textLength="25" lengthAdjust="spacingAndGlyphs">CaF<tspan font-size="9.5px" dy="4.4">2</tspan></text>
<text x="622" y="276.6" fill="#a67c00" textLength="25" lengthAdjust="spacingAndGlyphs">BaF<tspan font-size="9.5px" dy="4.4">2</tspan></text>
<text x="678.6" y="319.4" fill="#ff6a00" textLength="27.8" lengthAdjust="spacingAndGlyphs">ZnSe</text>
<text x="420" y="345.2" fill="#7fc241" textLength="29.4" lengthAdjust="spacingAndGlyphs">UVFS</text>
<text x="572.4" y="414" fill="#222222" textLength="15.2" lengthAdjust="spacingAndGlyphs">Ge</text>
<text x="595" y="470.6" fill="#b4b4b4" textLength="9.4" lengthAdjust="spacingAndGlyphs" font-weight="normal">Si</text>
</g>
</svg>
</body>
</html>
